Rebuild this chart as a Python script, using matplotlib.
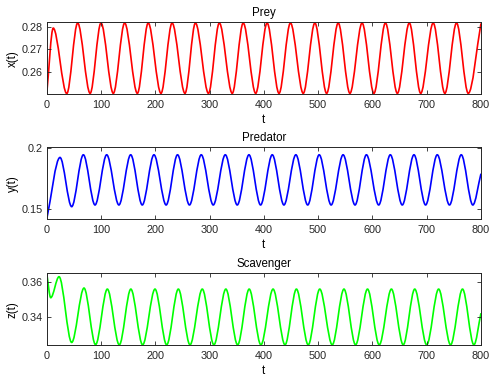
import matplotlib
matplotlib.use("Agg")
import matplotlib.pyplot as plt
from matplotlib.path import Path
from matplotlib.patches import PathPatch

plt.rcParams["font.family"] = ["Liberation Sans", "DejaVu Sans"]

# turning points (time, value)
prey_t = [0, 12, 37, 57, 80, 100, 122.7, 143.6, 167, 187, 210.5, 231, 254.7, 274, 298, 318,
          341.8, 362, 385, 406, 428, 449, 472.6, 494, 515.7, 537, 558.6, 581, 602.8, 624, 646,
          668, 689, 712, 733.5, 755, 776.6, 800]
prey_v = [0.2500, 0.2795, 0.2502] + [0.2818, 0.2503] * 17 + [0.2816]

pred_t = [0, 24.5, 46, 67.5, 89, 110.5, 133, 154.7, 176, 197.6, 220, 241, 263, 284.7, 306.8,
          329, 351, 372.6, 394, 415.5, 437, 459, 480.8, 502, 524, 546, 568, 589, 611.6, 633,
          655, 676.6, 698, 719.5, 742, 763.7, 785, 800]
pred_v = [0.1415, 0.1923, 0.1519] + [0.1945, 0.1533] * 17 + [0.1790]

scav_t = [0, 7.4, 22.7, 46, 68.7, 90, 111.7, 133.7, 155, 176.7, 199.5, 221, 242.5, 264, 286.6,
          308, 330, 351.7, 373, 394.6, 417, 439, 460, 481.8, 503, 526, 547.6, 569, 591, 612.6,
          635, 656.8, 678, 700, 722, 744, 766, 787, 800]
scav_v = [0.3652, 0.3510, 0.3632, 0.3250, 0.3566, 0.3237] + [0.3560, 0.3236] * 16 + [0.3420]

titles = ["Prey", "Predator", "Scavenger"]
ylabels = ["x(t)", "y(t)", "z(t)"]
colors = ["#ff0000", "#0000ff", "#00ff00"]
ylims = [(0.2499, 0.2821), (0.1415, 0.2006), (0.3235, 0.3652)]
yticks = [[0.26, 0.27, 0.28], [0.15, 0.2], [0.34, 0.36]]
yticklabels = [["0.26", "0.27", "0.28"], ["0.15", "0.2"], ["0.34", "0.36"]]
xticks = list(range(0, 801, 100))


def smooth_path(ts, vs):
    # cubic bezier between turning points, flat at the extrema
    verts = [(ts[0], vs[0])]
    codes = [Path.MOVETO]
    n = len(ts)
    for i in range(n - 1):
        t0, v0, t1, v1 = ts[i], vs[i], ts[i + 1], vs[i + 1]
        dt = t1 - t0
        chord = (v1 - v0) / dt
        s0 = chord if i == 0 else 0.0
        s1 = chord if i == n - 2 else 0.0
        verts += [(t0 + dt / 3, v0 + s0 * dt / 3), (t1 - dt / 3, v1 - s1 * dt / 3), (t1, v1)]
        codes += [Path.CURVE4] * 3
    return Path(verts, codes)


fig = plt.figure(figsize=(4.98, 3.91), dpi=100)
boxes = [[0.0938, 0.759, 0.872, 0.184],
         [0.0938, 0.4391, 0.872, 0.184],
         [0.0938, 0.1176, 0.872, 0.1835]]
series = [(prey_t, prey_v), (pred_t, pred_v), (scav_t, scav_v)]

for i in range(3):
    ax = fig.add_axes(boxes[i])
    ts, vs = series[i]
    ax.add_patch(PathPatch(smooth_path(ts, vs), fill=False, edgecolor=colors[i], lw=1.2))
    ax.set_xlim(0, 800)
    ax.set_ylim(*ylims[i])
    ax.set_xticks(xticks)
    ax.set_yticks(yticks[i])
    ax.set_yticklabels(yticklabels[i])
    ax.tick_params(direction="in", top=True, right=True, length=3, width=0.6,
                   labelsize=7.8, colors="#262626")
    ax.tick_params(axis="x", pad=4)
    ax.tick_params(axis="y", pad=3)
    for sp in ax.spines.values():
        sp.set_linewidth(0.7)
        sp.set_color("#262626")
    ax.set_title(titles[i], fontsize=8.3, pad=4.5)
    ax.set_xlabel("t", fontsize=8.3, labelpad=3)
    ax.set_ylabel(ylabels[i], fontsize=8.3, labelpad=2)

fig.savefig("out.png", dpi=100)
